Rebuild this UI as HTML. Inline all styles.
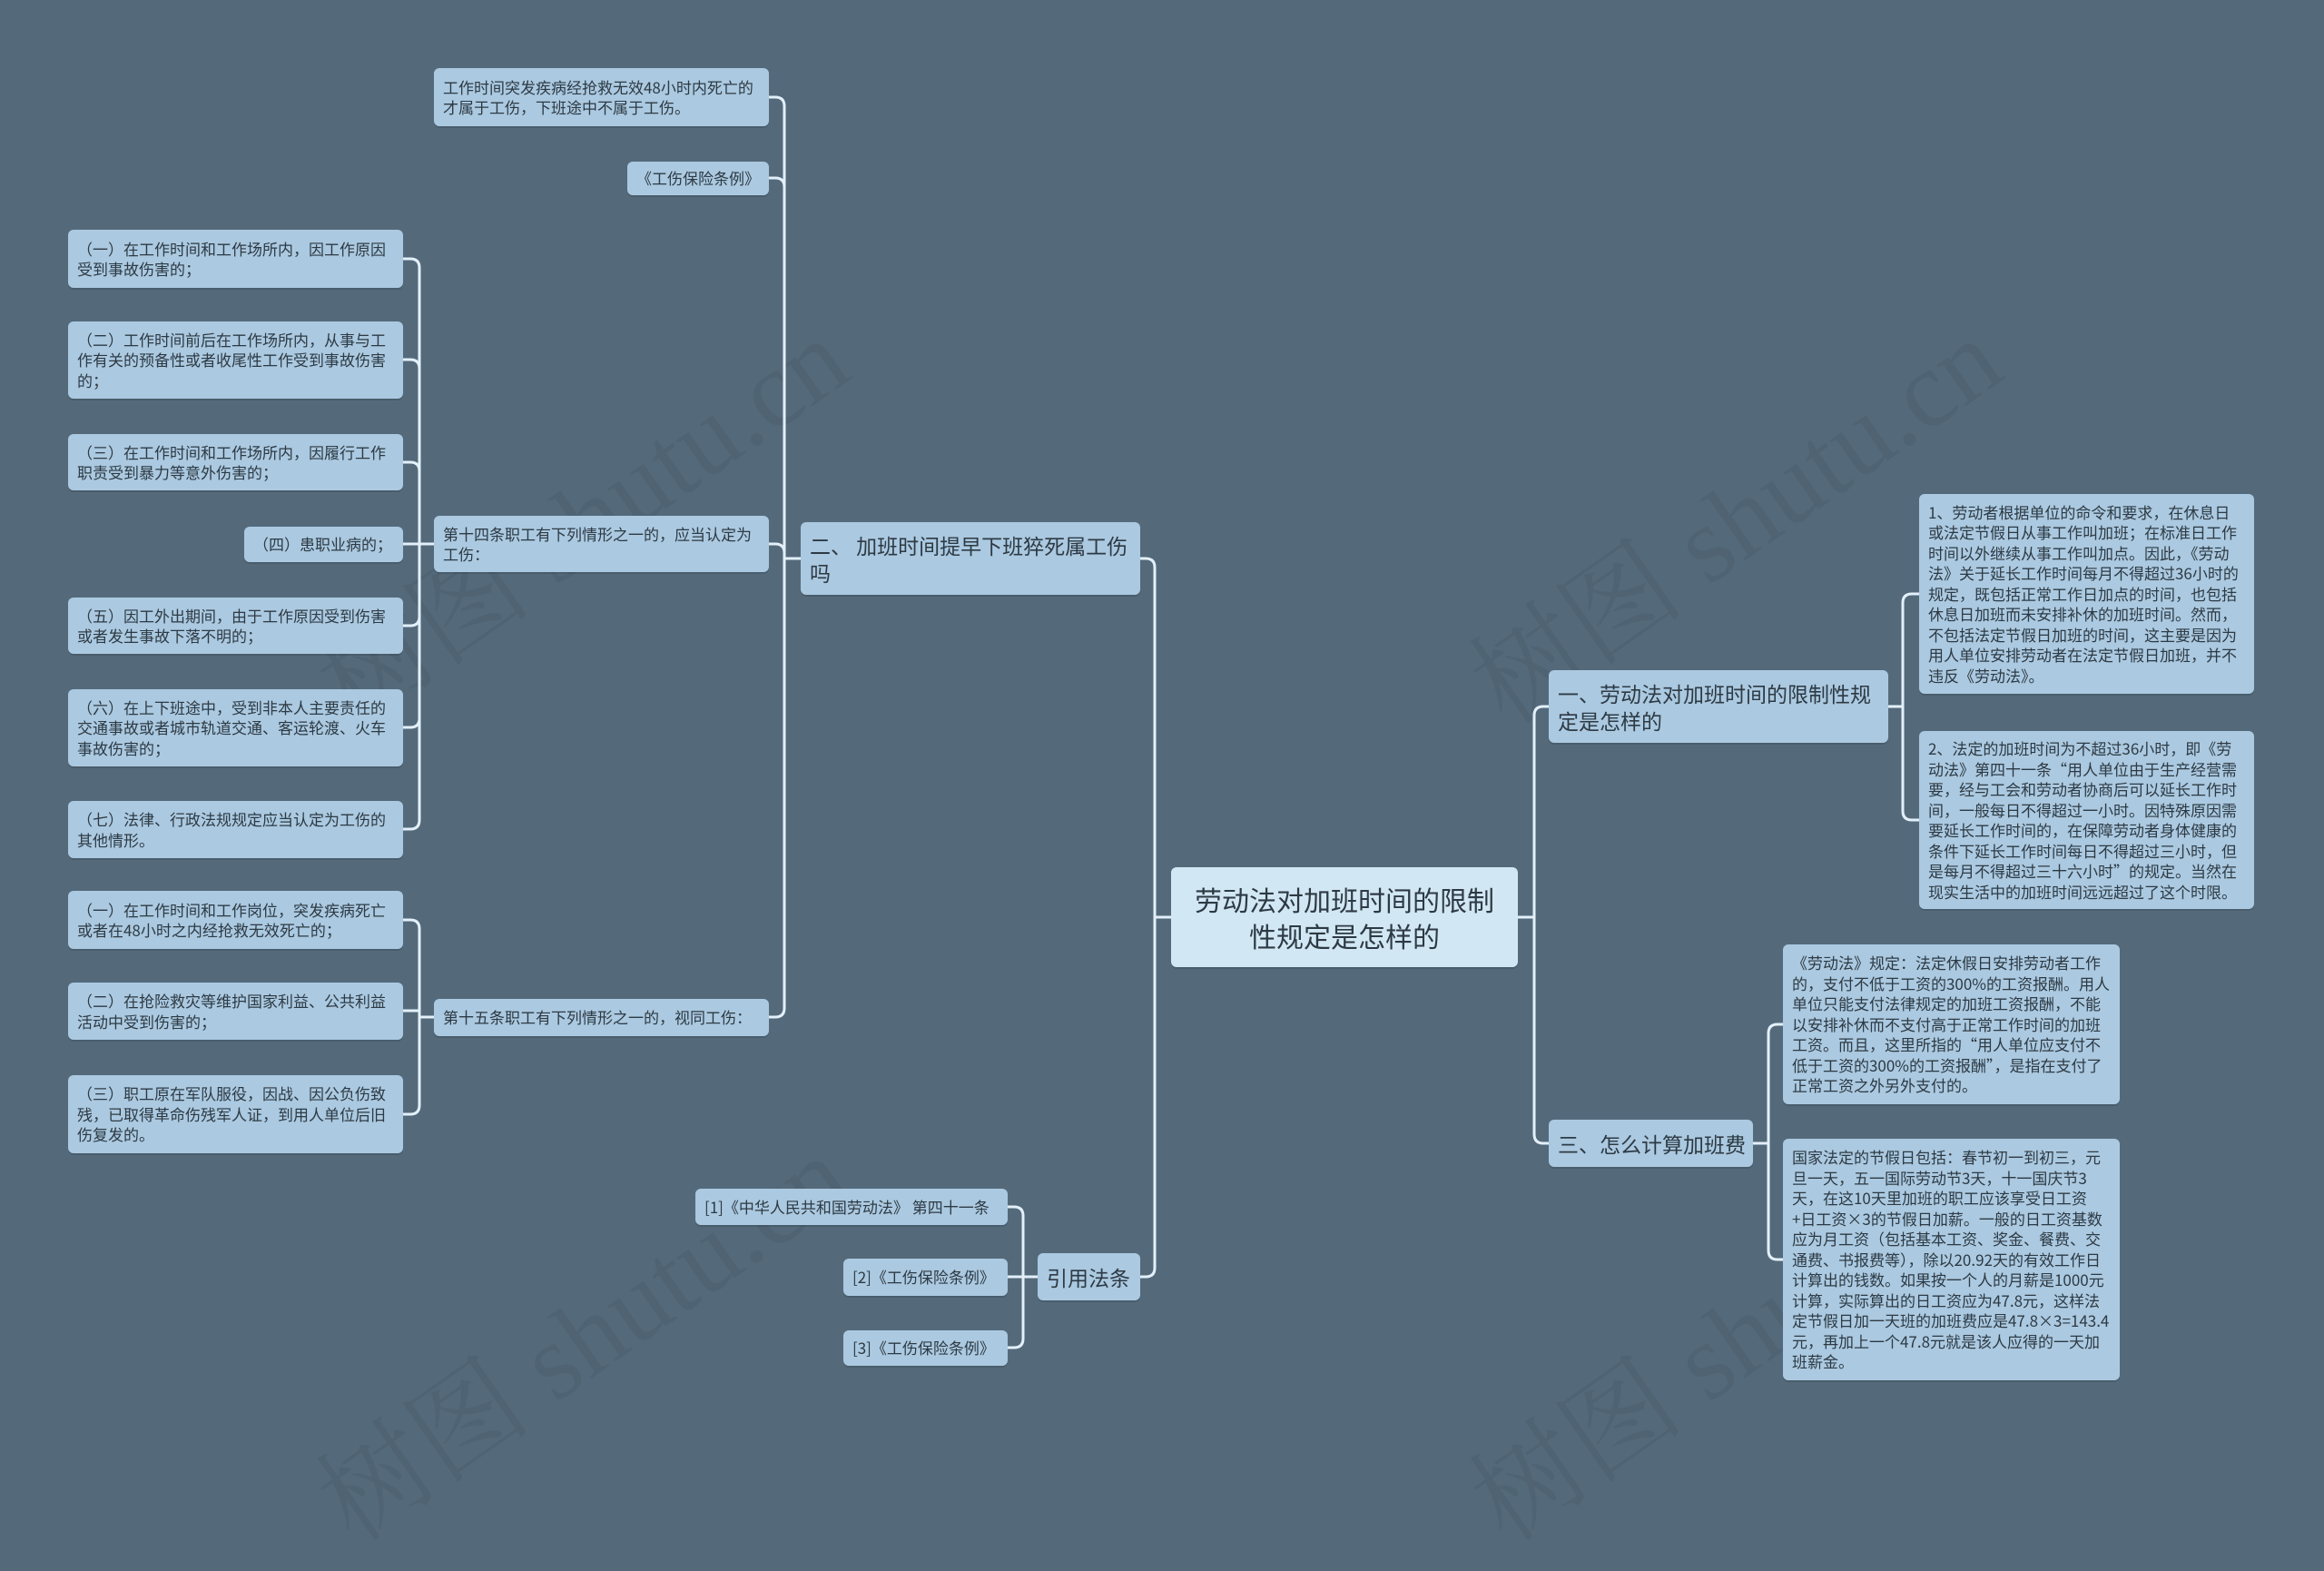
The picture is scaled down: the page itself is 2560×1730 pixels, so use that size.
<!DOCTYPE html>
<html><head><meta charset="utf-8"><style>
html,body{margin:0;padding:0;}
body{width:2560px;height:1596px;background:#546a7b;position:relative;overflow:hidden;font-family:"Noto Sans CJK SC","Liberation Sans",sans-serif;color:#2d3a44;}
.n{position:absolute;box-sizing:border-box;background:#abc9e0;border-radius:6px;display:flex;align-items:center;padding:0 10px;font-size:17px;line-height:22.5px;box-shadow:0 2px 0 rgba(0,0,0,0.12);}
.m{font-size:23px;line-height:30px;padding:0 10px;}
.nw{white-space:nowrap;}
.c{background:#d2e7f4;font-size:30px;line-height:40px;justify-content:center;text-align:center;padding:0 8px;}
.wm{position:absolute;font-family:"Liberation Serif","Noto Serif CJK SC",serif;font-size:120px;color:rgba(0,0,0,0.06);transform:rotate(-35deg);white-space:nowrap;}
svg{position:absolute;left:0;top:0;}
</style></head><body>
<div class="wm" style="left:300px;top:480px;">树图 shutu.cn</div>
<div class="wm" style="left:1570px;top:480px;">树图 shutu.cn</div>
<div class="wm" style="left:300px;top:1380px;">树图 shutu.cn</div>
<div class="wm" style="left:1570px;top:1380px;">树图 shutu.cn</div>
<svg id="s" width="2560" height="1596"></svg>

<div class="n c" style="left:1290px;top:955px;width:382px;height:110px;">劳动法对加班时间的限制<br>性规定是怎样的</div>

<div class="n m" style="left:1706px;top:738px;width:374px;height:80px;">一、劳动法对加班时间的限制性规定是怎样的</div>
<div class="n" style="left:2114px;top:544px;width:369px;height:220px;">1、劳动者根据单位的命令和要求，在休息日或法定节假日从事工作叫加班；在标准日工作时间以外继续从事工作叫加点。因此，《劳动法》关于延长工作时间每月不得超过36小时的规定，既包括正常工作日加点的时间，也包括休息日加班而未安排补休的加班时间。然而，不包括法定节假日加班的时间，这主要是因为用人单位安排劳动者在法定节假日加班，并不违反《劳动法》。</div>
<div class="n" style="left:2114px;top:805px;width:369px;height:196px;">2、法定的加班时间为不超过36小时，即《劳动法》第四十一条“用人单位由于生产经营需要，经与工会和劳动者协商后可以延长工作时间，一般每日不得超过一小时。因特殊原因需要延长工作时间的，在保障劳动者身体健康的条件下延长工作时间每日不得超过三小时，但是每月不得超过三十六小时”的规定。当然在现实生活中的加班时间远远超过了这个时限。</div>

<div class="n m nw" style="left:1706px;top:1233px;width:225px;height:52px;">三、怎么计算加班费</div>
<div class="n" style="left:1964px;top:1040px;width:371px;height:176px;">《劳动法》规定：法定休假日安排劳动者工作的，支付不低于工资的300%的工资报酬。用人单位只能支付法律规定的加班工资报酬，不能以安排补休而不支付高于正常工作时间的加班工资。而且，这里所指的“用人单位应支付不低于工资的300%的工资报酬”，是指在支付了正常工资之外另外支付的。</div>
<div class="n" style="left:1964px;top:1254px;width:371px;height:266px;">国家法定的节假日包括：春节初一到初三，元旦一天，五一国际劳动节3天，十一国庆节3天，在这10天里加班的职工应该享受日工资+日工资×3的节假日加薪。一般的日工资基数应为月工资（包括基本工资、奖金、餐费、交通费、书报费等），除以20.92天的有效工作日计算出的钱数。如果按一个人的月薪是1000元计算，实际算出的日工资应为47.8元，这样法定节假日加一天班的加班费应是47.8×3=143.4元，再加上一个47.8元就是该人应得的一天加班薪金。</div>

<div class="n m" style="left:882px;top:575px;width:374px;height:80px;">二、 加班时间提早下班猝死属工伤吗</div>
<div class="n" style="left:478px;top:75px;width:369px;height:64px;">工作时间突发疾病经抢救无效48小时内死亡的才属于工伤，下班途中不属于工伤。</div>
<div class="n nw" style="left:691px;top:178px;width:156px;height:37px;">《工伤保险条例》</div>
<div class="n" style="left:478px;top:568px;width:369px;height:62px;">第十四条职工有下列情形之一的，应当认定为工伤：</div>
<div class="n" style="left:478px;top:1100px;width:369px;height:41px;">第十五条职工有下列情形之一的，视同工伤：</div>

<div class="n" style="left:75px;top:253px;width:369px;height:64px;">（一）在工作时间和工作场所内，因工作原因受到事故伤害的；</div>
<div class="n" style="left:75px;top:354px;width:369px;height:85px;">（二）工作时间前后在工作场所内，从事与工作有关的预备性或者收尾性工作受到事故伤害的；</div>
<div class="n" style="left:75px;top:478px;width:369px;height:62px;">（三）在工作时间和工作场所内，因履行工作职责受到暴力等意外伤害的；</div>
<div class="n nw" style="left:269px;top:580px;width:175px;height:39px;">（四）患职业病的；</div>
<div class="n" style="left:75px;top:658px;width:369px;height:62px;">（五）因工外出期间，由于工作原因受到伤害或者发生事故下落不明的；</div>
<div class="n" style="left:75px;top:759px;width:369px;height:85px;">（六）在上下班途中，受到非本人主要责任的交通事故或者城市轨道交通、客运轮渡、火车事故伤害的；</div>
<div class="n" style="left:75px;top:882px;width:369px;height:63px;">（七）法律、行政法规规定应当认定为工伤的其他情形。</div>
<div class="n" style="left:75px;top:981px;width:369px;height:64px;">（一）在工作时间和工作岗位，突发疾病死亡或者在48小时之内经抢救无效死亡的；</div>
<div class="n" style="left:75px;top:1082px;width:369px;height:63px;">（二）在抢险救灾等维护国家利益、公共利益活动中受到伤害的；</div>
<div class="n" style="left:75px;top:1184px;width:369px;height:86px;">（三）职工原在军队服役，因战、因公负伤致残，已取得革命伤残军人证，到用人单位后旧伤复发的。</div>

<div class="n m nw" style="left:1143px;top:1380px;width:113px;height:52px;">引用法条</div>
<div class="n nw" style="left:766px;top:1309px;width:344px;height:40px;">[1]《中华人民共和国劳动法》 第四十一条</div>
<div class="n nw" style="left:929px;top:1386px;width:181px;height:41px;">[2]《工伤保险条例》</div>
<div class="n nw" style="left:929px;top:1465px;width:181px;height:39px;">[3]《工伤保险条例》</div>

<script>
var s=document.getElementById('s'),d='';
function L(px,py,tx,cx,ys){ys.forEach(function(cy){var r=10,dir=cx>tx?1:-1;
 if(Math.abs(cy-py)<r){d+='M'+px+' '+py+'H'+tx+'V'+cy+'H'+cx;return;}
 var sg=cy>py?1:-1;
 d+='M'+px+' '+py+'H'+tx+'V'+(cy-sg*r)+'Q'+tx+' '+cy+' '+(tx+dir*r)+' '+cy+'H'+cx;});}
L(1672,1010,1690,1706,[778,1259]);
L(1290,1010,1272,1256,[615,1406]);
L(2080,778,2096,2114,[654,903]);
L(1931,1259,1948,1964,[1128,1387]);
L(882,615,864,847,[107,196,599,1120]);
L(478,599,462,444,[285,396,509,599,689,801,913]);
L(478,1120,462,444,[1013,1113,1227]);
L(1143,1406,1127,1110,[1329,1406,1484]);
s.innerHTML='<path d="'+d+'" fill="none" stroke="#e3f0fa" stroke-width="3"/>';
</script>
</body></html>
